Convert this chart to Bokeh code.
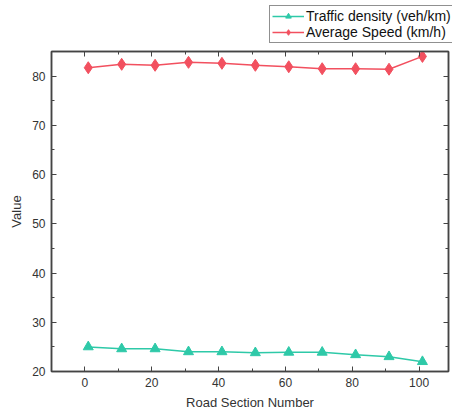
from bokeh.plotting import figure
from bokeh.models import LinearAxis, Range1d, Legend, LegendItem, FixedTicker, CustomJSTickFormatter
from bokeh.layouts import column
from bokeh.embed import file_html
from bokeh.resources import INLINE

road_section = [1, 11, 21, 31, 41, 51, 61, 71, 81, 91, 101]
traffic_density = [25.0, 24.6, 24.6, 24.0, 24.0, 23.8, 23.9, 23.9, 23.4, 23.0, 22.0]
average_speed = [81.7, 82.4, 82.2, 82.8, 82.6, 82.2, 81.9, 81.5, 81.5, 81.4, 84.0]
x_ticks = [0, 20, 40, 60, 80, 100]
y_ticks = [20, 30, 40, 50, 60, 70, 80]
series_names = ["Traffic density (veh/km)", "Average Speed (km/h)"]

teal = "#2ec9a8"
red = "#f2505f"
axis_col = "#444444"
font = "Liberation Sans"

# ---- legend strip (top) ----
lg = figure(width=452, height=45, output_backend="svg", toolbar_location=None,
            min_border=0, x_range=Range1d(1000, 1001), y_range=Range1d(1000, 1001))
lg.frame_align = False
lg.axis.visible = False
lg.grid.visible = False
lg.outline_line_color = None
lg.background_fill_color = "white"
lg.border_fill_color = "white"
d1l = lg.line(road_section, traffic_density, line_color=teal, line_width=1.5)
d1m = lg.scatter(road_section, traffic_density, marker="triangle", size=9, fill_color=teal, line_color=teal)
d2l = lg.line(road_section, average_speed, line_color=red, line_width=1.5)
d2m = lg.scatter(road_section, average_speed, marker="diamond", size=11, fill_color=red, line_color=red)
legend = Legend(items=[LegendItem(label=series_names[0], renderers=[d1l, d1m]),
                       LegendItem(label=series_names[1], renderers=[d2l, d2m])],
                location=(269, 2))
legend.label_text_font = font
legend.label_text_font_size = "14px"
legend.label_text_color = "#111111"
legend.border_line_color = "#222222"
legend.border_line_width = 1
legend.padding = 2
legend.spacing = 0
legend.margin = 0
legend.glyph_width = 32
legend.glyph_height = 14
legend.label_height = 14
legend.label_standoff = 2
legend.background_fill_alpha = 1
lg.add_layout(legend)

# ---- main chart ----
p = figure(width=452, height=367, output_backend="svg", toolbar_location=None,
           x_range=Range1d(-10, 108.8), y_range=Range1d(20, 85),
           min_border_left=51, min_border_right=4, min_border_top=6, min_border_bottom=38)
p.frame_align = False
p.background_fill_color = "white"
p.border_fill_color = "white"
p.outline_line_color = axis_col
p.outline_line_width = 1.5
p.xgrid.visible = False
p.ygrid.visible = False

def style(ax, labels=True):
    ax.axis_line_color = axis_col
    ax.axis_line_width = 1.5
    ax.major_tick_line_color = axis_col
    ax.minor_tick_line_color = axis_col
    ax.major_tick_in = 5
    ax.major_tick_out = 0
    ax.minor_tick_in = 3
    ax.minor_tick_out = 0
    ax.major_label_text_font = font
    ax.major_label_text_font_size = "12px"
    ax.major_label_text_color = "#333333"
    ax.axis_label_text_font = font
    ax.axis_label_text_font_size = "13px"
    ax.axis_label_text_font_style = "normal"
    ax.axis_label_text_color = "#333333"
    if not labels:
        ax.formatter = CustomJSTickFormatter(code="return ''")
        ax.major_label_standoff = 0

p.xaxis.ticker = FixedTicker(ticks=x_ticks, minor_ticks=list(range(-10, 110, 10)))
p.yaxis.ticker = FixedTicker(ticks=y_ticks, minor_ticks=list(range(20, 86, 5)))
p.xaxis.axis_label = "Road Section Number"
p.yaxis.axis_label = "Value"
style(p.xaxis[0])
style(p.yaxis[0])
p.xaxis.major_label_standoff = 6
p.yaxis.major_label_standoff = 6

top = LinearAxis(ticker=FixedTicker(ticks=x_ticks, minor_ticks=list(range(-10, 110, 10))))
style(top, labels=False)
p.add_layout(top, "above")
right = LinearAxis(ticker=FixedTicker(ticks=y_ticks, minor_ticks=list(range(20, 86, 5))))
style(right, labels=False)
p.add_layout(right, "right")

p.line(road_section, traffic_density, line_color=teal, line_width=1.5)
p.scatter(road_section, traffic_density, marker="triangle", size=10,
          fill_color=teal, line_color=teal)
p.line(road_section, average_speed, line_color=red, line_width=1.5)
p.scatter(road_section, average_speed, marker="diamond", size=12,
          fill_color=red, line_color=red)

layout = column(lg, p, spacing=0)
open("out.html", "w").write(file_html(layout, INLINE))
